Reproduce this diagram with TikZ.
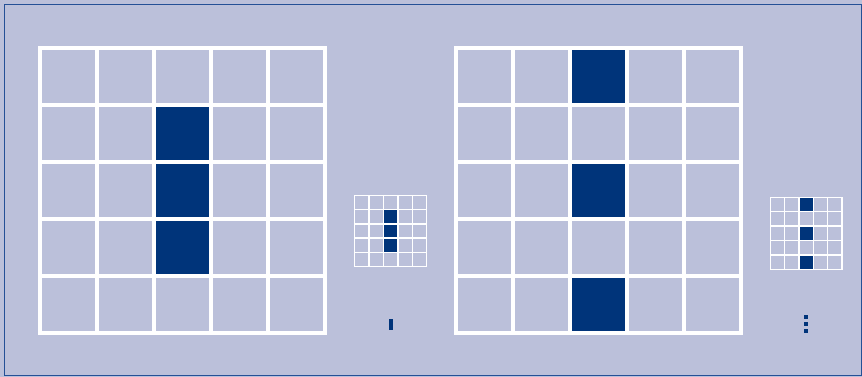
\documentclass[tikz,border=0pt]{standalone}
\definecolor{bgc}{RGB}{187,192,218}
\definecolor{darkc}{RGB}{0,52,122}
\definecolor{framec}{RGB}{36,80,150}
\tikzset{
  gridline/.style={draw=white,line width=4pt,line cap=rect},
  smallgridline/.style={draw=white,line width=1.4pt,line cap=rect},
  cellfill/.style={fill=darkc}
}
% \pixgrid{x0}{y0}{x1}{y1}{style}{list of col/row}
\newcommand{\pixgrid}[6]{%
  \pgfmathsetmacro{\dxg}{(#3-#1)/5}%
  \pgfmathsetmacro{\dyg}{(#4-#2)/5}%
  \foreach \c/\r in {#6}{%
    \fill[cellfill] ({#1+\c*\dxg},{#2+\r*\dyg}) rectangle ({#1+(\c+1)*\dxg},{#2+(\r+1)*\dyg});
  }%
  \foreach \i in {0,...,5}{%
    \draw[#5] ({#1+\i*\dxg},#2) -- ({#1+\i*\dxg},#4);
    \draw[#5] (#1,{#2+\i*\dyg}) -- (#3,{#2+\i*\dyg});
  }%
}
\begin{document}
\begin{tikzpicture}[x=1pt,y=-1pt]
\useasboundingbox (0,0) rectangle (862,377);
\fill[bgc] (0,0) rectangle (862,377);
\draw[framec,line width=1.3pt] (4.6,4.6) rectangle (861.2,375.6);
% large left grid
\pixgrid{40.3}{48.5}{324.7}{332.7}{gridline}{2/1,2/2,2/3}
% large right grid
\pixgrid{456.3}{47.7}{741}{332.7}{gridline}{2/0,2/2,2/4}
% small left grid
\pixgrid{354.7}{195.2}{426.7}{266.7}{smallgridline}{2/1,2/2,2/3}
% small right grid
\pixgrid{770.3}{197.3}{842}{269.3}{smallgridline}{2/0,2/2,2/4}
% tiny marks
\fill[darkc] (389,319) rectangle (393,330);
\fill[darkc] (804,315) rectangle (808,319);
\fill[darkc] (804,322) rectangle (808,326);
\fill[darkc] (804,329) rectangle (808,333);
\end{tikzpicture}
\end{document}
